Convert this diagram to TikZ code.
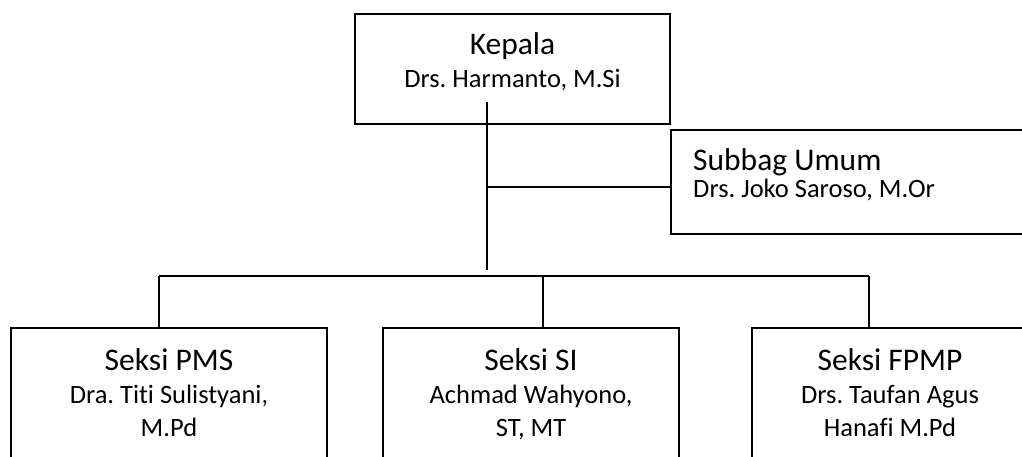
\documentclass[tikz,border=0pt]{standalone}
\usepackage{fontspec}
\setmainfont{Carlito}[Ligatures=NoCommon]
\frenchspacing
\begin{document}
\begin{tikzpicture}[x=1pt,y=-1pt,
  box/.style={draw=black,line width=1.8pt,rectangle,inner sep=0pt,outer sep=0pt},
  link/.style={draw=black,line width=1.8pt},
  ttl/.style={anchor=base,inner sep=0pt,font=\fontsize{31.5}{38}\selectfont\frenchspacing},
  nm/.style={anchor=base,inner sep=0pt,font=\fontsize{26.5}{32}\selectfont\frenchspacing}]
\useasboundingbox (0,0) rectangle (1022,457);
\clip (0,0) rectangle (1022,457);
% boxes
\node[box,minimum width=315pt,minimum height=110pt] (kepala) at (512.5,69) {};
\node[box,minimum width=369pt,minimum height=104pt] (subbag) at (855.5,182) {};
\node[box,minimum width=316pt,minimum height=172pt] (pms) at (169,414) {};
\node[box,minimum width=296pt,minimum height=172pt] (si) at (531,414) {};
\node[box,minimum width=276pt,minimum height=172pt] (fpmp) at (890,414) {};
% texts
\node[ttl] (kepalaT) at (512.5,55) {Kepala};
\node[nm] (kepalaN) at (512.5,88) {Drs. Harmanto, M.Si};
\node[ttl,anchor=base west] (subbagT) at (693,171) {Subbag Umum};
\node[nm,anchor=base west] (subbagN) at (693,197) {Drs. Joko Saroso, M.Or};
\node[ttl] (pmsT) at (169,370) {Seksi PMS};
\node[nm] (pmsN1) at (169,403) {Dra. Titi Sulistyani,};
\node[nm] (pmsN2) at (169,436) {M.Pd};
\node[ttl] (siT) at (531,370) {Seksi SI};
\node[nm] (siN1) at (531,403) {Achmad Wahyono,};
\node[nm] (siN2) at (531,436) {ST, MT};
\node[ttl] (fpmpT) at (890,370) {Seksi FPMP};
\node[nm] (fpmpN1) at (890,403) {Drs. Taufan Agus};
\node[nm] (fpmpN2) at (890,436) {Hanafi M.Pd};
% connector points
\coordinate (trunkTop) at (487,102);
\coordinate (trunkBot) at (487,270);
\coordinate (branch) at (487,187);
\coordinate (barL) at (159,276);
\coordinate (barM) at (543,276);
\coordinate (barR) at (869,276);
% connectors
\draw[link] (trunkTop) -- (trunkBot);
\draw[link] (branch) -- (branch -| subbag.west);
\draw[link] (barL) -- (barR);
\draw[link] (barL) -- (barL |- pms.north);
\draw[link] (barM) -- (barM |- si.north);
\draw[link] (barR) -- (barR |- fpmp.north);
\end{tikzpicture}
\end{document}
